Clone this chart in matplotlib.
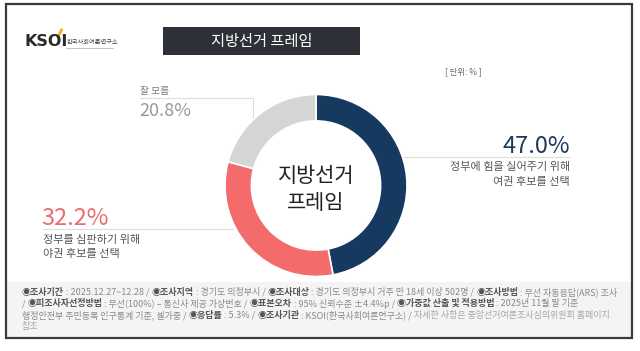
import matplotlib
matplotlib.use('Agg')
import matplotlib.pyplot as plt
from matplotlib.patches import Rectangle

plt.rcParams['font.family'] = ['Noto Sans CJK KR', 'DejaVu Sans']

# 데이터
categories = ['정부에 힘을 실어주기 위해\n여권 후보를 선택',
              '정부를 심판하기 위해\n야권 후보를 선택',
              '잘 모름']
values = [47.0, 32.2, 20.8]
colors = ['#163a5f', '#f36b6b', '#d5d5d5']
title = '지방선거 프레임'
center_label = '지방선거\n프레임'

footer_lines = [
    [('◉조사기간', True), (' : 2025.12.27~12.28 / ', False), ('◉조사지역', True),
     (' : 경기도 의정부시 / ', False), ('◉조사대상', True),
     (' : 경기도 의정부시 거주 만 18세 이상 502명 / ', False), ('◉조사방법', True),
     (' : 무선 자동응답(ARS) 조사', False)],
    [('/ ', False), ('◉피조사자선정방법', True), (' : 무선(100%) – 통신사 제공 가상번호 / ', False),
     ('◉표본오차', True), (' : 95% 신뢰수준 ±4.4%p / ', False),
     ('◉가중값 산출 및 적용방법', True), (' : 2025년 11월 말 기준', False)],
    [('행정안전부 주민등록 인구통계 기준, 셀가중 / ', False), ('◉응답률', True),
     (' : 5.3% / ', False), ('◉조사기관', True), (' : KSOI(한국사회여론연구소) / ', False),
     ('자세한 사항은 중앙선거여론조사심의위원회 홈페이지', None)],
    [('참조', None)],
]

W, H = 640, 351
fig = plt.figure(figsize=(W / 100, H / 100), dpi=100)
ax = fig.add_axes([0, 0, 1, 1])
ax.set_xlim(0, W)
ax.set_ylim(H, 0)
ax.axis('off')

# 바깥 테두리와 하단 회색 영역
ax.add_patch(Rectangle((6, 282), 626, 56, facecolor='#f4f4f4', edgecolor='none', zorder=0))
ax.add_patch(Rectangle((6, 4), 626, 334, facecolor='none', edgecolor='#3a3a3a', linewidth=1.6, zorder=5))

# 로고
ax.text(24, 42, 'KSOI', fontsize=11.5, fontweight='bold', color='#2a2a2a', va='center', ha='left',
        family='DejaVu Sans')
ax.plot([59, 61.5], [35, 30], color='#f2b01e', linewidth=2)
ax.text(67, 42, '한국사회여론연구소', fontsize=4.5, color='#444444', va='center', ha='left')
ax.plot([66, 113], [48, 48], color='#aaaaaa', linewidth=0.5)

# 제목 상자
ax.add_patch(Rectangle((163, 27), 197, 28, facecolor='#2d3137', edgecolor='none'))
ax.text(261.5, 41.5, title, fontsize=11, color='white', ha='center', va='center')
ax.text(482, 72, '[ 단위: % ]', fontsize=6, color='#666666', ha='right', va='center')

# 도넛 차트
cx, cy, r = 316, 185.5, 91
pax = fig.add_axes([(cx - r) / W, (H - cy - r) / H, 2 * r / W, 2 * r / H])
pax.pie(values, colors=colors, startangle=90, counterclock=False, radius=1,
        wedgeprops=dict(width=0.29, edgecolor='white', linewidth=1.2))
pax.set_xlim(-1, 1)
pax.set_ylim(-1, 1)
ax.text(cx, 176, center_label.split('\n')[0], fontsize=15, color='#222222', ha='center', va='center')
ax.text(cx, 203, center_label.split('\n')[1], fontsize=15, color='#222222', ha='center', va='center')

# 라벨: 47.0%
ax.plot([402, 570], [157, 157], color='#dddddd', linewidth=0.8)
ax.text(570, 153, f'{values[0]:.1f}%', fontsize=17, color='#1d3a58', ha='right', va='baseline')
for i, line in enumerate(categories[0].split('\n')):
    ax.text(570, 167 + i * 15, line, fontsize=8, color='#555555', ha='right', va='center')

# 라벨: 32.2%
ax.plot([43, 233], [229, 229], color='#dddddd', linewidth=0.8)
ax.text(41, 225, f'{values[1]:.1f}%', fontsize=17, color='#ea6b70', ha='left', va='baseline')
for i, line in enumerate(categories[1].split('\n')):
    ax.text(43, 240 + i * 14, line, fontsize=8, color='#555555', ha='left', va='center')

# 라벨: 20.8%
ax.plot([140, 253, 253], [98, 98, 120], color='#dddddd', linewidth=0.8)
ax.text(140, 91, categories[2], fontsize=7, color='#777777', ha='left', va='center')
ax.text(139, 116, f'{values[2]:.1f}%', fontsize=13, color='#999999', ha='left', va='baseline')

# 하단 조사 개요
fig.canvas.draw()
renderer = fig.canvas.get_renderer()
inv = ax.transData.inverted()
for row, runs in enumerate(footer_lines):
    x = 22
    y = 292 + row * 11.6
    for txt, bold in runs:
        if bold is True:
            col, wt = '#555555', 'bold'
        elif bold is False:
            col, wt = '#8a8a8a', 'normal'
        else:
            col, wt = '#a8a8a8', 'normal'
        t = ax.text(x, y, txt, fontsize=6.5, color=col, fontweight=wt, ha='left', va='center')
        bb = t.get_window_extent(renderer=renderer)
        x = inv.transform((bb.x1, bb.y0))[0]

fig.savefig('out.png', dpi=100)
